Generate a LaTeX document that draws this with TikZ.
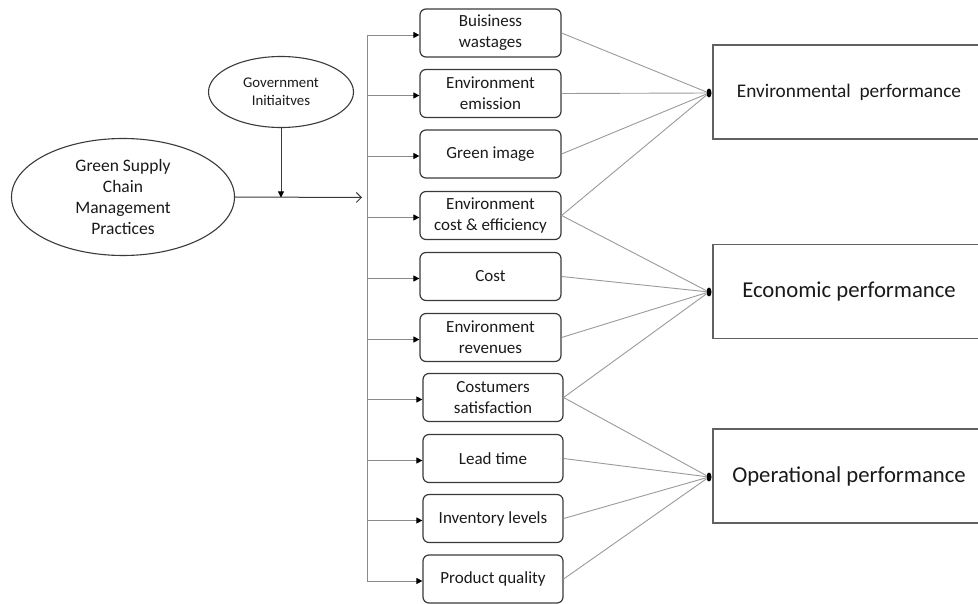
\documentclass[tikz,border=0pt]{standalone}
\usepackage{fontspec}
\setmainfont{Carlito}
\usetikzlibrary{shapes.geometric,arrows.meta,calc}
\definecolor{ink}{HTML}{1A1A1A}
\definecolor{edge}{HTML}{3A3A3A}
\definecolor{wire}{HTML}{8A8A8A}
\definecolor{link}{HTML}{9A9A9A}
\begin{document}
\begin{tikzpicture}[x=1pt,y=-1pt,
  oval/.style={ellipse,draw=edge,line width=1.1pt,inner sep=0pt,text=ink,align=center},
  factor/.style={rectangle,rounded corners=6pt,draw=edge,line width=1.2pt,minimum height=48pt,
    inner sep=0pt,text=ink,align=center,font=\fontsize{17}{21}\selectfont},
  outcome/.style={rectangle,draw=edge!80,line width=1.2pt,minimum width=272pt,minimum height=94pt,
    inner sep=0pt,text=ink},
  joint/.style={ellipse,fill=black,inner sep=0pt,minimum width=5pt,minimum height=9pt},
  branch/.style={draw=wire,line width=0.9pt,-{Triangle[length=6pt,width=6pt,color=black]}},
  tie/.style={draw=link,line width=0.9pt}]
\useasboundingbox (0,0) rectangle (978,604);
\clip (0,0) rectangle (978,604);

% source constructs
\node[oval,minimum width=223pt,minimum height=117pt,font=\fontsize{17.5}{21}\selectfont]
  (gscm) at (123,197) {Green Supply\\Chain\\Management\\Practices};
\node[oval,minimum width=145pt,minimum height=71pt,font=\fontsize{14.8}{18}\selectfont]
  (gov) at (281,92) {Government\\Initiaitves};

% practice outcomes
\node[factor,minimum width=141pt] (b1) at (490.5,33)   {Buisiness\\wastages};
\node[factor,minimum width=141pt] (b2) at (490.5,93.5) {Environment\\emission};
\node[factor,minimum width=141pt] (b3) at (490.5,154)  {Green image};
\node[factor,minimum width=141pt] (b4) at (490.5,215.5){Environment\\cost \& efficiency};
\node[factor,minimum width=141pt] (b5) at (490.5,276.5){Cost};
\node[factor,minimum width=141pt] (b6) at (490.5,337.5){Environment\\revenues};
\node[factor,minimum width=140pt] (b7) at (493,397.5)  {Costumers\\satisfaction};
\node[factor,minimum width=140pt] (b8) at (493,458.5)  {Lead time};
\node[factor,minimum width=140pt] (b9) at (493,518.5)  {Inventory levels};
\node[factor,minimum width=140pt] (b10) at (493,579)   {Product quality};

% performance dimensions
\node[outcome,font=\fontsize{19.3}{23}\selectfont] (envp) at (849,92)  {Environmental\ \ performance};
\node[outcome,font=\fontsize{22.7}{26}\selectfont] (ecop) at (849,291.5) {Economic performance};
\node[outcome,font=\fontsize{22.7}{26}\selectfont] (opp)  at (849,476)   {Operational performance};

\node[joint] (jenv) at (709,93)  {};
\node[joint] (jeco) at (709,292) {};
\node[joint] (jop)  at (709,477) {};

% main flow with moderating arrow
\coordinate (hub) at (362,197.5);
\draw[draw=edge,line width=1pt,-{Straight Barb[length=5pt,width=10pt]}] (gscm.east) -- (hub);
\draw[draw=edge,line width=0.9pt,-{Triangle[length=6pt,width=6pt,color=black]}] (gov.south) -- (gov.south |- hub);

% distribution bus
\coordinate (bus) at (367,0);
\draw[draw=wire,line width=0.9pt] ($(bus |- b1.west)+(0,2)$) -- ($(bus |- b10.west)+(0,2)$);
\foreach \b in {b1,b2,b3,b4,b5,b6,b7,b8,b9,b10}
  \draw[branch] ($(bus |- \b.west)+(0,2)$) -- ($(\b.west)+(0,2)$);

% links to performance dimensions
\foreach \b in {b1,b2,b3,b4} \draw[tie] (\b.east) -- (jenv);
\foreach \b in {b4,b5,b6,b7} \draw[tie] (\b.east) -- (jeco);
\foreach \b in {b7,b8,b9,b10} \draw[tie] (\b.east) -- (jop);
\end{tikzpicture}
\end{document}
